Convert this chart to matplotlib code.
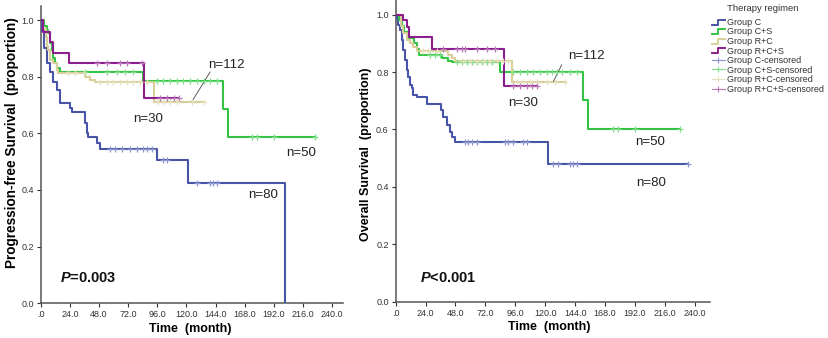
import numpy as np
import matplotlib
matplotlib.use("Agg")
import matplotlib.pyplot as plt
from matplotlib.lines import Line2D
from matplotlib.legend_handler import HandlerBase

plt.rcParams['font.family'] = ['Liberation Sans', 'DejaVu Sans']
plt.rcParams['mathtext.fontset'] = 'custom'
plt.rcParams['mathtext.bfit'] = 'Liberation Sans:italic:bold'
plt.rcParams['mathtext.rm'] = 'Liberation Sans'
plt.rcParams['mathtext.bf'] = 'Liberation Sans:bold'

# ---------------- data ----------------
groups = ["Group C", "Group C+S", "Group R+C", "Group R+C+S"]
colors = ["#4754a8", "#33c443", "#d8cf98", "#8c1d8c"]
cens_colors = ["#8e96d0", "#7fdc88", "#e6e0bd", "#b979b9"]

# Progression-free survival (left panel)
pfs_c_t = [0, 1, 3, 5, 7.7, 10.4, 13.2, 15.9, 24.2, 25.6, 36.5, 37.9, 39.3, 46.2, 48.9, 95.7, 121.7, 200.9]
pfs_c_s = [1.0, 0.96, 0.90, 0.847, 0.817, 0.782, 0.753, 0.706, 0.688, 0.676, 0.635, 0.600, 0.588, 0.565, 0.544, 0.506, 0.424, 0.0]
pfs_c_end = 200.9
pfs_c_cens = [57.2, 61.3, 66.7, 73.6, 79.2, 84.6, 87.4, 91.5, 101.1, 103.9, 128.7, 139.6, 142.3, 145.1]

pfs_cs_t = [0, 3, 5, 6.3, 7.7, 9.1, 10.4, 11.8, 13.2, 15.9, 84.6, 150.1, 154.5]
pfs_cs_s = [1.0, 0.98, 0.965, 0.953, 0.918, 0.894, 0.865, 0.847, 0.83, 0.817, 0.785, 0.686, 0.588]
pfs_cs_end = 226.2
pfs_cs_cens = [36.5, 54.4, 62.7, 69.5, 76.4, 95.7, 101.1, 106.6, 112.2, 117.6, 123.1, 128.7, 134.1, 139.6, 145.1,
               174, 178, 192, 226.2]

pfs_rc_t = [0, 2, 4, 5.5, 6.3, 7.7, 10.4, 13.2, 14.6, 36.8, 41, 44.5, 93]
pfs_rc_s = [1.0, 0.97, 0.94, 0.91, 0.894, 0.859, 0.847, 0.824, 0.812, 0.80, 0.788, 0.782, 0.709]
pfs_rc_end = 134.1
pfs_rc_cens = [22.8, 28.3, 35.5, 48.9, 54.4, 59.9, 65.4, 70.9, 76.4, 81.9, 87.4, 97, 101, 106.6, 112, 124.5, 134.1]

pfs_rcs_t = [0, 1.6, 7.7, 10.4, 23.5, 85.4]
pfs_rcs_s = [1.0, 0.959, 0.923, 0.882, 0.847, 0.724]
pfs_rcs_end = 113.5
pfs_rcs_cens = [46.2, 54.4, 65.4, 70.9, 83.3, 98.4, 103.9, 109.4, 113.5]

# Overall survival (right panel)
os_c_t = [0, 0.8, 2, 3.5, 4.8, 6.1, 7.5, 8.8, 10.1, 11.5, 12.8, 14.1, 16.8, 24.9, 36.4, 38.2, 40.9, 43.6, 45, 47.6, 122.5]
os_c_s = [1.0, 0.985, 0.965, 0.947, 0.912, 0.877, 0.842, 0.808, 0.784, 0.755, 0.744, 0.72, 0.714, 0.688, 0.668,
          0.645, 0.616, 0.592, 0.575, 0.557, 0.48]
os_c_end = 234.6
os_c_cens = [55.6, 58.3, 61, 65, 87.7, 90.4, 94.4, 102.4, 105.2, 126.5, 130.5, 139.9, 142.6, 145.3, 234.6]

os_cs_t = [0, 3, 5, 7, 11, 15, 17, 19, 37, 42, 45, 84, 150, 154.6]
os_cs_s = [1.0, 0.98, 0.96, 0.94, 0.92, 0.90, 0.88, 0.86, 0.85, 0.84, 0.836, 0.80, 0.703, 0.60]
os_cs_end = 228
os_cs_cens = [27.5, 31.5, 35.6, 49, 53, 57, 61, 65, 69, 73, 77, 94.4, 99.8, 105.2, 110.5, 115.8, 121.2, 125.2,
              129.2, 133.2, 139.9, 145.3, 174.5, 178.6, 192, 228]

os_rc_t = [0, 4, 6.1, 8.8, 11.5, 14.1, 16.8, 42.2, 44.9, 47.6, 93]
os_rc_s = [1.0, 0.96, 0.935, 0.912, 0.90, 0.888, 0.872, 0.86, 0.848, 0.84, 0.767]
os_rc_end = 135.9
os_rc_cens = [22.2, 26.2, 32.9, 54.3, 59.6, 65, 70.3, 75.7, 81.1, 86.4, 90.4, 97.1, 102.4, 107.8, 113.2, 121.2,
              127.9, 135.9]

os_rcs_t = [0, 6.1, 8.8, 10.8, 28.9, 86.9]
os_rcs_s = [1.0, 0.982, 0.958, 0.923, 0.880, 0.752]
os_rcs_end = 113.2
os_rcs_cens = [38.2, 49, 53, 55.6, 65, 73, 79.7, 94.4, 99.8, 105.2, 109.2, 113.2]

x_ticks = [0, 24, 48, 72, 96, 120, 144, 168, 192, 216, 240]
x_ticklabels = [".0", "24.0", "48.0", "72.0", "96.0", "120.0", "144.0", "168.0", "192.0", "216.0", "240.0"]
y_ticks = [0.0, 0.2, 0.4, 0.6, 0.8, 1.0]
y_ticklabels = ["0.0", "0.2", "0.4", "0.6", "0.8", "1.0"]

pfs_curves = [(pfs_c_t, pfs_c_s, pfs_c_end, pfs_c_cens), (pfs_cs_t, pfs_cs_s, pfs_cs_end, pfs_cs_cens),
              (pfs_rc_t, pfs_rc_s, pfs_rc_end, pfs_rc_cens), (pfs_rcs_t, pfs_rcs_s, pfs_rcs_end, pfs_rcs_cens)]
os_curves = [(os_c_t, os_c_s, os_c_end, os_c_cens), (os_cs_t, os_cs_s, os_cs_end, os_cs_cens),
             (os_rc_t, os_rc_s, os_rc_end, os_rc_cens), (os_rcs_t, os_rcs_s, os_rcs_end, os_rcs_cens)]

pfs_notes = [("n=112", 152.8, 0.841), ("n=30", 88.5, 0.649), ("n=50", 214.7, 0.529), ("n=80", 182.9, 0.382)]
os_notes = [("n=112", 152.8, 0.856), ("n=30", 102.2, 0.691), ("n=50", 204, 0.557), ("n=80", 205, 0.415)]


def step_at(t, s, x):
    t = np.asarray(t); s = np.asarray(s)
    idx = np.searchsorted(t, x, side='right') - 1
    return s[idx]


def draw_panel(ax, curves, notes, pointer, ptext, pxy, ylabel, ylab_fs, ylab_xy, xlab_xy, xlim):
    for (t, s, end, cens), col, ccol in zip(curves, colors, cens_colors):
        tt = list(t) + [end]
        ss = list(s) + [s[-1]]
        ax.step(tt, ss, where='post', color=col, lw=1.5, zorder=3)
        cens = np.asarray(cens)
        ax.plot(cens, step_at(t, s, cens), ls='none', marker='+', ms=4.5, mew=0.9,
                color=ccol, zorder=4)
    ax.set_xlim(*xlim)
    ax.set_ylim(0, 1.05)
    ax.set_xticks(x_ticks)
    ax.set_xticklabels(x_ticklabels)
    ax.set_yticks(y_ticks)
    ax.set_yticklabels(y_ticklabels)
    ax.tick_params(labelsize=6.5, length=3, width=0.8, pad=2, colors='#333333')
    for sp in ['top', 'right']:
        ax.spines[sp].set_visible(False)
    for sp in ['left', 'bottom']:
        ax.spines[sp].set_color('#555555')
        ax.spines[sp].set_linewidth(1.1)
    for txt, x, y in notes:
        ax.text(x, y, txt, ha='center', va='center', fontsize=9.5, color='#222222')
    ax.annotate('', xy=pointer[1], xytext=pointer[0],
                arrowprops=dict(arrowstyle='-', color='#444444', lw=0.6, shrinkA=0, shrinkB=0))
    ax.text(pxy[0], pxy[1], ptext, ha='left', va='center', fontsize=10.5, fontweight='bold', color='#111111')
    ax.set_ylabel(ylabel, fontsize=ylab_fs, fontweight='bold')
    ax.yaxis.set_label_coords(*ylab_xy)
    ax.set_xlabel("Time  (month)", fontsize=9, fontweight='bold')
    ax.xaxis.set_label_coords(*xlab_xy)


fig = plt.figure(figsize=(8.29, 3.38), dpi=100)
ax1 = fig.add_axes([0.0491, 0.1027, 0.3647, 0.880])
ax2 = fig.add_axes([0.4773, 0.1074, 0.3788, 0.8916])

draw_panel(ax1, pfs_curves, pfs_notes, ((139.6, 0.817), (124.5, 0.712)), r'$\mathbfit{P}$=0.003', (15.9, 0.088),
           "Progression-free Survival  (proportion)", 9.8, (-0.072, 0.54), (0.494, -0.066), (0, 249))
draw_panel(ax2, os_curves, os_notes, ((133.2, 0.825), (126.5, 0.767)), r'$\mathbfit{P}$<0.001', (19.5, 0.084),
           "Overall Survival  (proportion)", 9, (-0.075, 0.49), (0.488, -0.065), (0, 252))


class HandlerStep(HandlerBase):
    def create_artists(self, legend, orig_handle, xdescent, ydescent, width, height, fontsize, trans):
        x = np.array([0.0, 0.45, 0.45, 1.0]) * width - xdescent
        y = np.array([0.05, 0.05, 0.85, 0.85]) * height - ydescent
        return [Line2D(x, y, color=orig_handle.get_color(), lw=1.4, transform=trans)]


step_handles = [Line2D([], [], color=c, lw=1.4) for c in colors]
cens_handles = [Line2D([], [], color=c, lw=0.8, marker='+', ms=5, mew=0.8) for c in cens_colors]
labels = groups + [g + "-censored" for g in groups]
hmap = {h: HandlerStep() for h in step_handles}
fig.text(727 / 829, 1 - 8.3 / 338, "Therapy regimen", ha='left', va='center', fontsize=6.8, color='#333333')
leg = fig.legend(step_handles + cens_handles, labels, handler_map=hmap, loc='upper left',
                 bbox_to_anchor=(0.852, 0.963), frameon=False, fontsize=6.5,
                 handlelength=1.5, handletextpad=0.15, labelspacing=0.06,
                 borderaxespad=0.2, numpoints=1)
for t in leg.get_texts():
    t.set_color('#333333')

fig.savefig("out.png", dpi=100)
